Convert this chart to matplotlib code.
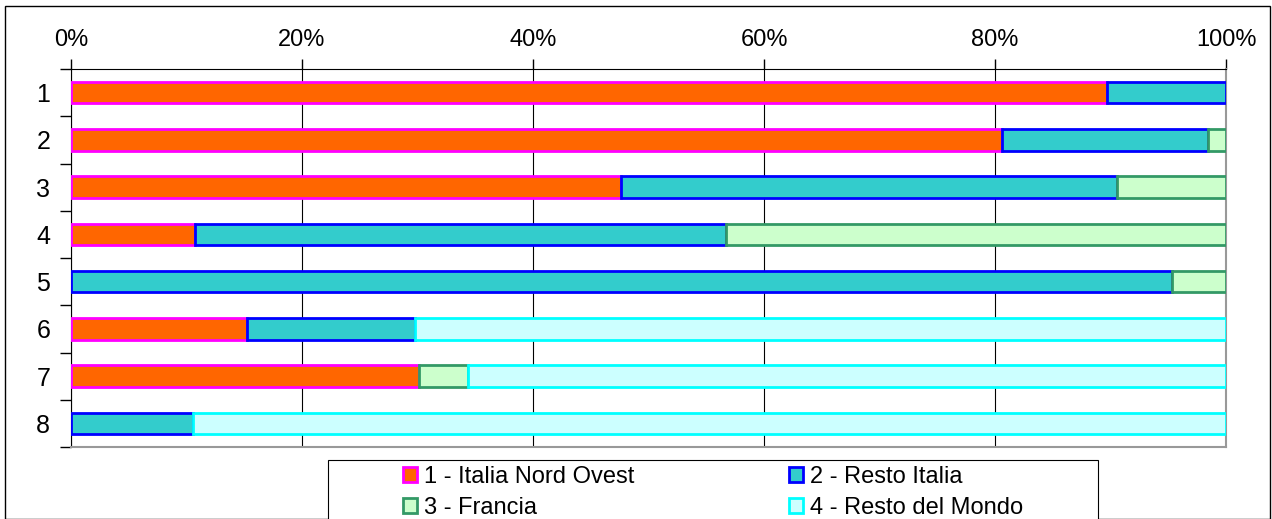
import numpy as np
import matplotlib.pyplot as plt
from matplotlib.patches import Patch, Rectangle

plt.rcParams['font.family'] = ['Liberation Sans', 'DejaVu Sans']

# percentage shares per row
categories = ['1', '2', '3', '4', '5', '6', '7', '8']
italia_no = [89.7, 80.6, 47.6, 10.7, 0.0, 15.2, 30.1, 0.0]
resto_it = [10.3, 17.8, 43.0, 46.0, 95.3, 14.6, 0.0, 10.6]
francia = [0.0, 1.6, 9.4, 43.3, 4.7, 0.0, 4.3, 0.0]
mondo = [0.0, 0.0, 0.0, 0.0, 0.0, 70.2, 65.6, 89.4]
x_ticks = [0, 20, 40, 60, 80, 100]
x_labels = ['0%', '20%', '40%', '60%', '80%', '100%']

series = [
    ('1 - Italia Nord Ovest', italia_no, '#FF6600', '#FF00FF'),
    ('2 - Resto Italia', resto_it, '#33CCCC', '#0000FF'),
    ('3 - Francia', francia, '#CCFFCC', '#339966'),
    ('4 - Resto del Mondo', mondo, '#CCFFFF', '#00FFFF'),
]

W, H = 1272, 519
fig = plt.figure(figsize=(W / 100, H / 100), dpi=100)
ax = fig.add_axes([71 / W, 1 - 447 / H, (1226 - 71) / W, (447 - 69) / H])

y = np.arange(len(categories))
left = np.zeros(len(categories))
for name, vals, fc, ec in series:
    vals = np.array(vals)
    mask = vals > 0
    ax.barh(y[mask], vals[mask], left=left[mask], height=0.45,
            color=fc, edgecolor=ec, linewidth=2, zorder=3)
    left += vals

ax.set_xlim(0, 100)
ax.set_ylim(len(categories) - 0.5, -0.5)

ax.xaxis.tick_top()
ax.set_xticks(x_ticks)
ax.set_xticklabels(x_labels, fontsize=17)
ax.tick_params(axis='x', direction='out', length=7, width=1, color='black', pad=6)
ax.grid(axis='x', color='black', linewidth=0.8, zorder=0)

ax.set_yticks(y)
ax.set_yticklabels(categories, fontsize=18)
ax.set_yticks(np.arange(len(categories) + 1) - 0.5, minor=True)
ax.tick_params(axis='y', which='major', length=0, pad=15)
ax.tick_params(axis='y', which='minor', length=8, width=1, color='black', direction='out')

ax.spines['top'].set_color('black')
ax.spines['left'].set_color('black')
ax.spines['right'].set_color('#999999')
ax.spines['bottom'].set_color('#999999')
ax.spines['right'].set_linewidth(1.5)
ax.spines['bottom'].set_linewidth(1.5)

# outer chart frame
fig.patches.append(Rectangle((5 / W, 0), (1270 - 5) / W, 1 - 6 / H, transform=fig.transFigure,
                             fill=False, edgecolor='black', linewidth=1))
# legend box
fig.patches.append(Rectangle((328 / W, -0.05), (1098 - 328) / W, 0.05 + 1 - 460 / H,
                             transform=fig.transFigure, facecolor='white',
                             edgecolor='black', linewidth=0.8))

# legend fills row by row: 1, 2 / 3, 4
order = [0, 2, 1, 3]
handles = [Patch(facecolor=series[i][2], edgecolor=series[i][3], linewidth=2,
                 label=series[i][0]) for i in order]
leg = fig.legend(handles=handles, ncol=2, loc='upper left',
                 bbox_to_anchor=(391 / W, 1 - 454 / H), frameon=False,
                 fontsize=17, handlelength=0.6, handleheight=0.55,
                 handletextpad=0.3, columnspacing=6.55, labelspacing=0.38,
                 borderpad=0)

fig.savefig('out.png', dpi=100)
